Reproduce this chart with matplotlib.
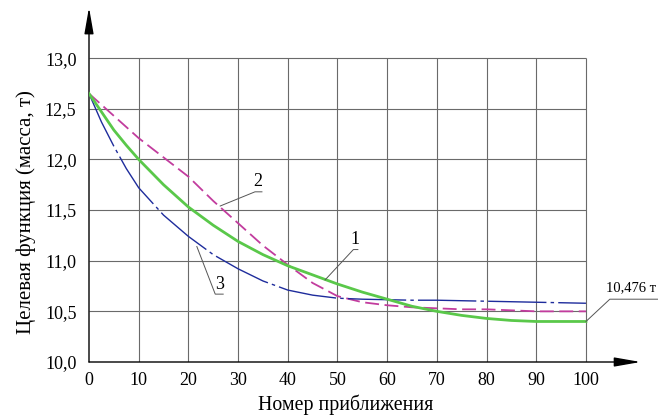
import numpy as np
import matplotlib
matplotlib.use("Agg")
import matplotlib.pyplot as plt

plt.rcParams['font.family'] = ['Liberation Serif', 'DejaVu Serif']
plt.rcParams['lines.scale_dashes'] = False

# номер приближения
iters = [0, 2.5, 5, 7.5, 10, 15, 20, 25, 30, 35, 40, 45, 50,
         55, 60, 65, 70, 75, 80, 85, 90, 95, 100]

# кривая 1 (зелёная, сплошная)
curve_1 = [12.65, 12.47, 12.29, 12.14, 12.00, 11.75, 11.53, 11.35, 11.19, 11.06, 10.95, 10.86, 10.77,
           10.69, 10.62, 10.55, 10.50, 10.46, 10.43, 10.41, 10.40, 10.40, 10.40]
# кривая 2 (пурпурная, штриховая)
curve_2 = [12.65, 12.54, 12.43, 12.32, 12.21, 12.02, 11.83, 11.59, 11.37, 11.15, 10.96, 10.78, 10.65,
           10.59, 10.56, 10.54, 10.53, 10.52, 10.52, 10.51, 10.50, 10.50, 10.50]
# кривая 3 (синяя, штрихпунктир)
curve_3 = [12.65, 12.37, 12.13, 11.91, 11.72, 11.45, 11.24, 11.06, 10.92, 10.80, 10.71, 10.66, 10.63,
           10.62, 10.615, 10.61, 10.61, 10.605, 10.60, 10.595, 10.59, 10.585, 10.58]

x_ticks = [0, 10, 20, 30, 40, 50, 60, 70, 80, 90, 100]
y_ticks = [10.0, 10.5, 11.0, 11.5, 12.0, 12.5, 13.0]
y_tick_labels = ['10,0', '10,5', '11,0', '11,5', '12,0', '12,5', '13,0']

final_label = '10,476 т'

fig = plt.figure(figsize=(6.58, 4.17), dpi=100)
ax = fig.add_axes([89 / 658, 55 / 417, 556.6 / 658, 359.6 / 417])
ax.set_xlim(0, 112)
ax.set_ylim(10.0, 13.55)
for s in ax.spines.values():
    s.set_visible(False)

# сетка
grid_kw = dict(color='#6a6a6a', lw=0.8, zorder=1)
ax.vlines(x_ticks[1:], y_ticks[0], y_ticks[-1], **grid_kw)
ax.hlines(y_ticks[1:], x_ticks[0], x_ticks[-1], **grid_kw)

# оси со стрелками
arr = dict(arrowstyle='-|>,head_length=1.6,head_width=0.28', color='black', lw=1.0,
           shrinkA=0, shrinkB=0)
ax.annotate('', xy=(111, 10.0), xytext=(0, 10.0), arrowprops=arr, annotation_clip=False)
ax.annotate('', xy=(0, 13.5), xytext=(0, 10.0), arrowprops=arr, annotation_clip=False)

ax.plot(iters, curve_2, color='#c23c9e', lw=1.3, ls=(0, (10, 4)), zorder=3)
ax.plot(iters, curve_3, color='#1e2c9c', lw=1.0, ls=(0, (42, 3, 2.5, 3)), zorder=3)
ax.plot(iters, curve_1, color='#5ac84a', lw=2.0, zorder=4)

ax.set_xticks(x_ticks)
ax.set_xticklabels([str(v) for v in x_ticks])
ax.set_yticks(y_ticks)
ax.set_yticklabels(y_tick_labels)
ax.tick_params(length=0, labelsize=13)
ax.tick_params(axis='x', pad=7)
ax.tick_params(axis='y', pad=9)

# выноски
lead = dict(color='#555555', lw=0.7, clip_on=False, zorder=5)
ax.plot([26.4, 33.4, 34.8], [11.54, 11.68, 11.68], **lead)
ax.text(34.0, 11.78, '2', fontsize=13, ha='center', va='center')
ax.plot([47.5, 53.2, 54.1], [10.81, 11.11, 11.11], **lead)
ax.text(53.6, 11.21, '1', fontsize=13, ha='center', va='center')
ax.plot([21.7, 25.4, 27.0], [11.14, 10.67, 10.67], **lead)
ax.text(26.2, 10.77, '3', fontsize=13, ha='center', va='center')
ax.plot([100, 104.8, 115], [curve_1[-1], 10.62, 10.62], **lead)
ax.text(104.0, 10.73, final_label, fontsize=10.5, ha='left', va='center', clip_on=False)

fig.text(346 / 658, 1 - 405 / 417, 'Номер приближения', fontsize=14.3,
         ha='center', va='center')
fig.text(26 / 658, 1 - 212 / 417, 'Целевая функция (масса, т)', fontsize=15,
         ha='center', va='center', rotation=90)

fig.savefig('out.png', dpi=100)
